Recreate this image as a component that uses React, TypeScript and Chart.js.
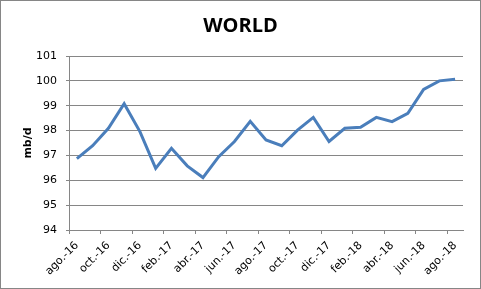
import React, { useEffect, useRef } from "react";
import { Chart, registerables } from "chart.js";

Chart.register(...registerables);

const categories: string[] = [
  "ago.-16", "sep.-16", "oct.-16", "nov.-16", "dic.-16",
  "ene.-17", "feb.-17", "mar.-17", "abr.-17", "may.-17", "jun.-17", "jul.-17",
  "ago.-17", "sep.-17", "oct.-17", "nov.-17", "dic.-17",
  "ene.-18", "feb.-18", "mar.-18", "abr.-18", "may.-18", "jun.-18", "jul.-18",
  "ago.-18",
];

const worldValues: number[] = [
  96.87, 97.39, 98.09, 99.08, 97.96,
  96.48, 97.29, 96.58, 96.11, 96.95, 97.56, 98.37,
  97.62, 97.39, 98.02, 98.53, 97.56,
  98.09, 98.13, 98.53, 98.36, 98.69, 99.66, 100.0, 100.06,
];

const titleText = "WORLD";
const yAxisTitle = "mb/d";
const yMin = 94;
const yMax = 101;
const yStep = 1;

const GRAY = "#868686";
const FONT = "'DejaVu Sans', Verdana, sans-serif";

const framePlugin = {
  id: "frame",
  beforeDraw(chart: any) {
    const { ctx, width, height } = chart;
    ctx.save();
    ctx.fillStyle = "#ffffff";
    ctx.fillRect(0, 0, width, height);
    ctx.restore();
  },
  afterDraw(chart: any) {
    const { ctx, width, height } = chart;
    ctx.save();
    ctx.strokeStyle = GRAY;
    ctx.lineWidth = 1;
    ctx.strokeRect(0.5, 0.5, width - 1, height - 1);
    ctx.fillStyle = "#000";
    ctx.font = "bold 20px 'Open Sans', sans-serif";
    ctx.textAlign = "center";
    ctx.textBaseline = "middle";
    ctx.fillText(titleText, width / 2, 26);
    ctx.restore();
  },
};

export default function App() {
  const canvasRef = useRef<HTMLCanvasElement | null>(null);

  useEffect(() => {
    if (!canvasRef.current) return;
    const chart = new Chart(canvasRef.current, {
      type: "line",
      data: {
        labels: categories,
        datasets: [
          {
            label: titleText,
            data: worldValues,
            borderColor: "#4A7EBB",
            backgroundColor: "#4A7EBB",
            borderWidth: 3,
            pointRadius: 0,
            tension: 0,
            fill: false,
          },
        ],
      },
      options: {
        responsive: false,
        animation: false,
        layout: { padding: { left: 0, right: 18, top: 56, bottom: 0 } },
        plugins: {
          legend: { display: false },
          tooltip: { enabled: false },
          title: { display: false },
        },
        scales: {
          x: {
            type: "category",
            offset: true,
            afterFit: (scale: any) => {
              scale.height = 59;
            },
            grid: {
              offset: true,
              drawOnChartArea: false,
              drawTicks: true,
              tickLength: 4,
              tickColor: (ctx: any) => (ctx.index % 2 === 0 ? GRAY : "rgba(0,0,0,0)"),
            },
            border: { color: GRAY, width: 1 },
            ticks: {
              autoSkip: false,
              minRotation: 45,
              maxRotation: 45,
              padding: 5,
              color: "#000",
              font: { family: FONT, size: 11 },
              callback: (_v: any, i: number) => (i % 2 === 0 ? categories[i] : ""),
            },
          },
          y: {
            min: yMin,
            max: yMax,
            afterFit: (scale: any) => {
              scale.width = 69;
            },
            grid: {
              color: GRAY,
              tickLength: 3,
              tickColor: GRAY,
            },
            border: { color: GRAY, width: 1 },
            ticks: {
              stepSize: yStep,
              padding: 9,
              color: "#000",
              font: { family: FONT, size: 11 },
            },
            title: {
              display: true,
              text: yAxisTitle,
              color: "#000",
              font: { family: FONT, size: 11, weight: "bold" },
              padding: { top: 22, bottom: 0 },
            },
          },
        },
      },
      plugins: [framePlugin],
    });
    return () => chart.destroy();
  }, []);

  return (
    <div style={{ position: "fixed", left: 0, top: 0, width: 481, height: 289 }}>
      <canvas ref={canvasRef} width={481} height={289} />
    </div>
  );
}
